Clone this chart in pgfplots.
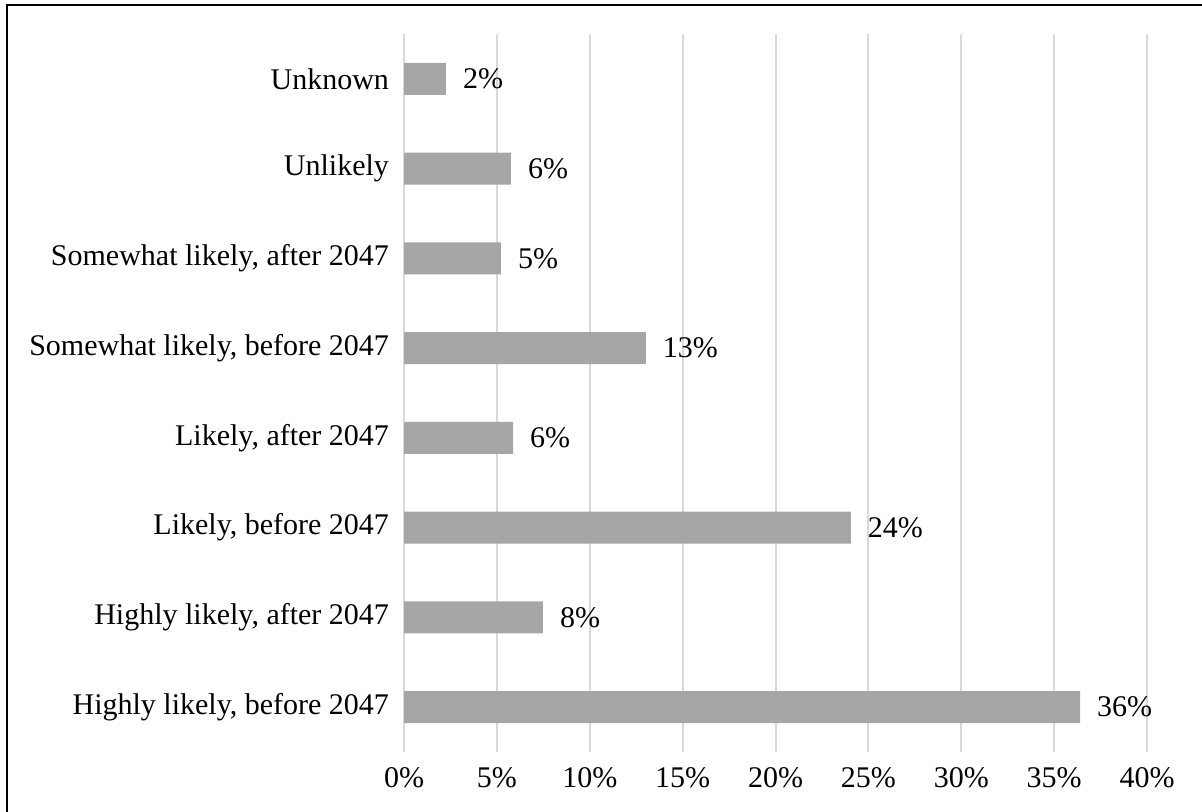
\documentclass[border=0pt]{standalone}
\usepackage{fontspec}
\setmainfont{Liberation Serif}
\usepackage{pgfplots}
\pgfplotsset{compat=1.18}
\definecolor{barfill}{HTML}{A6A6A6}
\definecolor{gridgray}{HTML}{D9D9D9}
\begin{document}
\begin{tikzpicture}
% page frame (only left and top edges are visible in the crop)
\useasboundingbox (0pt,0pt) rectangle (601pt,406pt);
\draw[line width=1pt] (3.5pt,-5pt) -- (3.5pt,403.5pt) -- (610pt,403.5pt);
\begin{axis}[
  at={(202pt,30pt)}, anchor=south west,
  scale only axis,
  width=371.5pt, height=359pt,
  xbar, bar width=16pt,
  xmin=0, xmax=40,
  ymin=-0.5, ymax=7.5,
  axis line style={draw=none},
  major tick length=0pt,
  xtick={0,5,...,40},
  xticklabels={0\%,5\%,10\%,15\%,20\%,25\%,30\%,35\%,40\%},
  ytick={0,...,7},
  yticklabels={{Highly likely, before 2047},{Highly likely, after 2047},{Likely, before 2047},{Likely, after 2047},{Somewhat likely, before 2047},{Somewhat likely, after 2047},Unlikely,Unknown},
  xmajorgrids,
  grid style={gridgray, line width=1pt},
  font=\fontsize{15}{18}\selectfont,
  xticklabel style={yshift=-4pt},
  yticklabel style={xshift=-4pt},
  point meta=explicit symbolic,
  nodes near coords,
  nodes near coords style={anchor=west, xshift=5pt, font=\fontsize{15}{18}\selectfont},
]
\addplot[fill=barfill, draw=none] coordinates {
  (36.4,0) [36\%]
  (7.48,1) [8\%]
  (24.06,2) [24\%]
  (5.87,3) [6\%]
  (13.02,4) [13\%]
  (5.22,5) [5\%]
  (5.76,6) [6\%]
  (2.26,7) [2\%]
};
\end{axis}
\end{tikzpicture}
\end{document}
